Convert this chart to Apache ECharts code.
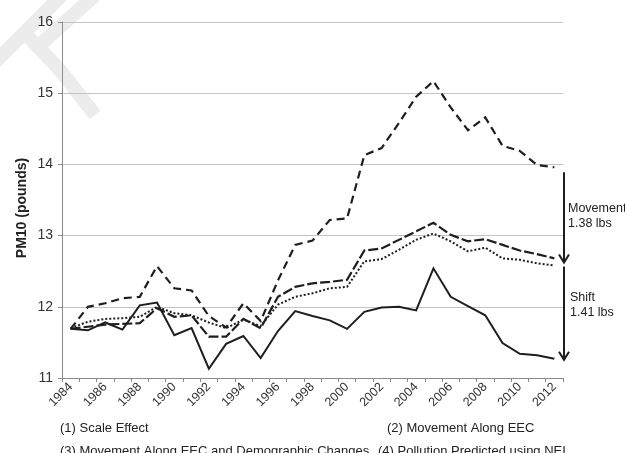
<!DOCTYPE html>
<html>
<head>
<meta charset="utf-8">
<script src="https://cdn.jsdelivr.net/npm/echarts@6/dist/echarts.min.js"></script>
<style>
  html, body { margin: 0; padding: 0; background: #fff; }
  #chart { width: 625px; height: 453px; }
</style>
</head>
<body>
<div id="chart"></div>
<script>
// Years on the horizontal axis
const years = ['1984','1985','1986','1987','1988','1989','1990','1991','1992','1993',
  '1994','1995','1996','1997','1998','1999','2000','2001','2002','2003',
  '2004','2005','2006','2007','2008','2009','2010','2011','2012'];

// (1) Scale Effect
const scaleEffect = [11.69, 12.00, 12.05, 12.12, 12.14, 12.57, 12.26, 12.23, 11.87, 11.71,
  12.05, 11.80, 12.37, 12.87, 12.93, 13.22, 13.24, 14.13, 14.23, 14.58,
  14.95, 15.17, 14.80, 14.48, 14.66, 14.26, 14.19, 13.99, 13.96];

// (2) Movement Along EEC
const movementEEC = [11.70, 11.79, 11.83, 11.84, 11.86, 12.00, 11.91, 11.88, 11.78, 11.70,
  11.82, 11.73, 12.03, 12.14, 12.19, 12.26, 12.28, 12.64, 12.67, 12.80,
  12.94, 13.03, 12.92, 12.78, 12.83, 12.68, 12.66, 12.61, 12.58];

// (3) Movement Along EEC and Demographic Changes
const movementDemo = [11.69, 11.72, 11.75, 11.76, 11.77, 11.98, 11.86, 11.88, 11.58, 11.58,
  11.83, 11.70, 12.14, 12.28, 12.33, 12.35, 12.38, 12.79, 12.82, 12.94,
  13.06, 13.18, 13.01, 12.92, 12.95, 12.87, 12.79, 12.74, 12.68];

// (4) Pollution Predicted using NEI
const predictedNEI = [11.69, 11.67, 11.78, 11.68, 12.02, 12.06, 11.60, 11.70, 11.13, 11.48,
  11.59, 11.28, 11.66, 11.94, 11.87, 11.81, 11.69, 11.93, 11.99, 12.00,
  11.95, 12.54, 12.14, 12.01, 11.88, 11.49, 11.34, 11.32, 11.27];

const legendTexts = [
  '(1) Scale Effect',
  '(2) Movement Along EEC',
  '(3) Movement Along EEC and Demographic Changes',
  '(4) Pollution Predicted using NEI'
];
const seriesTags = ['(1)', '(2)', '(3)', '(4)'];
const movementText = 'Movement\n1.38 lbs';
const shiftText = 'Shift\n1.41 lbs';
const yTitle = 'PM10 (pounds)';

const FONT = 'Liberation Sans, Arial, sans-serif';
const INK = '#1e1e1e';
const GRID = { left: 62, right: 62, top: 22, bottom: 75 };

const chart = echarts.init(document.getElementById('chart'), null, { renderer: 'canvas' });

// Tag the final point of a series with its number
function tagged(values, tag, position, dx) {
  return values.map((v, i) => i === values.length - 1
    ? { value: v, label: { show: true, formatter: tag, position: position, offset: [dx, 0],
        distance: 4, color: '#333', fontSize: 13, fontFamily: FONT } }
    : v);
}

function lineSeries(name, values, dash, width, tag, pos, dx) {
  return {
    name: name,
    type: 'line',
    data: tagged(values, tag, pos, dx),
    symbol: 'none',
    showSymbol: false,
    smooth: false,
    lineStyle: { color: INK, width: width, type: dash, cap: 'butt', join: 'miter' },
    label: { show: false },
    z: 3
  };
}

const option = {
  animation: false,
  backgroundColor: '#fff',
  grid: GRID,
  xAxis: {
    type: 'category',
    data: years,
    boundaryGap: true,
    axisLine: { lineStyle: { color: '#8c8c8c', width: 1 } },
    axisTick: { show: true, interval: 0, length: 4, lineStyle: { color: '#8c8c8c' } },
    axisLabel: { interval: 1, rotate: 45, fontSize: 12.5, color: '#333', fontFamily: FONT, margin: 7 },
    splitLine: { show: false }
  },
  yAxis: {
    type: 'value',
    min: 11, max: 16, interval: 1,
    axisLine: { show: true, lineStyle: { color: '#8c8c8c', width: 1 } },
    axisTick: { show: true, length: 4, lineStyle: { color: '#8c8c8c' } },
    axisLabel: { fontSize: 14, color: '#333', fontFamily: FONT, margin: 9 },
    splitLine: { lineStyle: { color: '#c4c4c4', width: 1 } }
  },
  series: [
    lineSeries(legendTexts[0], scaleEffect, [8, 5], 2.2, seriesTags[0], 'top', -10),
    lineSeries(legendTexts[1], movementEEC, [2, 2], 2, seriesTags[1], 'bottom', -10),
    lineSeries(legendTexts[2], movementDemo, [10, 3], 2.2, seriesTags[2], 'top', -10),
    lineSeries(legendTexts[3], predictedNEI, 'solid', 2, seriesTags[3], 'top', -8)
  ]
};

chart.setOption(option);

// Annotation arrows on the right, placed from the series end values
const last = years.length - 1;
const yPix = v => chart.convertToPixel({ yAxisIndex: 0 }, v);
const xArrow = chart.getWidth() - GRID.right + 1;

function arrow(y0, y1) {
  return [
    { type: 'line', shape: { x1: xArrow, y1: y0, x2: xArrow, y2: y1 - 1 },
      style: { stroke: INK, lineWidth: 2 } },
    { type: 'polyline', shape: { points: [[xArrow - 5, y1 - 8], [xArrow, y1], [xArrow + 5, y1 - 8]] },
      style: { stroke: INK, lineWidth: 2, fill: null } }
  ];
}

const topStart = yPix(scaleEffect[last]) + 5;
const topEnd = yPix(movementEEC[last]) - 3;
const lowStart = yPix(movementEEC[last]) + 1;
const lowEnd = yPix(predictedNEI[last]) + 1;

const textStyle = { fill: '#222', fontSize: 13, fontFamily: FONT, verticalAlign: 'middle' };
const noteStyle = { fill: '#222', fontSize: 12.5, fontFamily: FONT, lineHeight: 15 };

// Faint diagonal marks in the top-left corner
const faint = { stroke: '#ececec', lineWidth: 14, fill: null };
const decorations = [
  { type: 'polyline', z: -10, shape: { points: [[-5, 62], [62, -5]] }, style: faint },
  { type: 'polyline', z: -10, shape: { points: [[40, 45], [95, -5]] }, style: faint },
  { type: 'polyline', z: -10, shape: { points: [[20, 28], [60, 70], [95, 115]] }, style: faint }
];

const gridMidY = (yPix(16) + yPix(11)) / 2;
const row1 = 428, row2 = 451;

chart.setOption({
  graphic: decorations.concat(
    arrow(topStart, topEnd),
    arrow(lowStart, lowEnd),
    [
      { type: 'text', x: 22, y: gridMidY + 8, rotation: Math.PI / 2,
        style: { text: yTitle, fill: '#222', fontSize: 14, fontWeight: 'bold', fontFamily: FONT,
                 align: 'center', verticalAlign: 'middle' } },
      { type: 'text', x: xArrow + 4, y: (topStart + topEnd) / 2 - 16,
        style: Object.assign({ text: movementText }, noteStyle) },
      { type: 'text', x: xArrow + 6, y: (lowStart + lowEnd) / 2 - 23,
        style: Object.assign({ text: shiftText }, noteStyle) },
      { type: 'text', x: 60, y: row1, style: Object.assign({ text: legendTexts[0] }, textStyle) },
      { type: 'text', x: 387, y: row1, style: Object.assign({ text: legendTexts[1] }, textStyle) },
      { type: 'text', x: 60, y: row2, style: Object.assign({ text: legendTexts[2] }, textStyle) },
      { type: 'text', x: 378, y: row2, style: Object.assign({ text: legendTexts[3] }, textStyle) }
    ]
  )
});
</script>
</body>
</html>
